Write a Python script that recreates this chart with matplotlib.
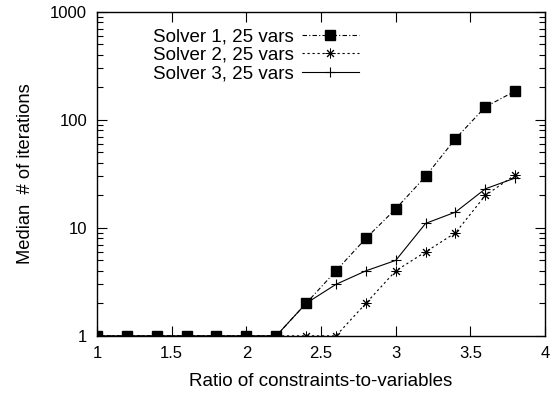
import matplotlib
matplotlib.use("Agg")
import matplotlib.pyplot as plt
from matplotlib.ticker import LogLocator, NullFormatter, FixedLocator

plt.rcParams['font.family'] = ['Liberation Sans', 'DejaVu Sans']

ratios = [1.0, 1.2, 1.4, 1.6, 1.8, 2.0, 2.2, 2.4, 2.6, 2.8, 3.0, 3.2, 3.4, 3.6, 3.8]
solver1 = [1, 1, 1, 1, 1, 1, 1, 2, 4, 8, 15, 30, 67, 132, 185]
solver2 = [1, 1, 1, 1, 1, 1, 1, 1, 1, 2, 4, 6, 9, 20, 31]
solver3 = [1, 1, 1, 1, 1, 1, 1, 2, 3, 4, 5, 11, 14, 23, 29]
labels = ["Solver 1, 25 vars", "Solver 2, 25 vars", "Solver 3, 25 vars"]
xticks = [1, 1.5, 2, 2.5, 3, 3.5, 4]
yticks = [1, 10, 100, 1000]
ytick_labels = ["1", "10", "100", "1000"]

fig = plt.figure(figsize=(5.54, 3.97), dpi=100)
ax = fig.add_axes([0.175, 0.154, 0.809, 0.816])

ax.plot(ratios, solver1, color='black', linestyle=(0, (4, 2, 1, 2)), linewidth=0.8,
        marker='s', markersize=6.5, label=labels[0])
ax.plot(ratios, solver2, color='black', linestyle=(0, (2, 2.5)), linewidth=0.8,
        marker=(8, 2, 0), markersize=7, markeredgewidth=0.7, label=labels[1])
ax.plot(ratios, solver3, color='black', linestyle='-', linewidth=0.8,
        marker='+', markersize=7.5, markeredgewidth=0.8, label=labels[2])

ax.set_yscale('log')
ax.set_xlim(1, 4)
ax.set_ylim(1, 1000)
ax.xaxis.set_major_locator(FixedLocator(xticks))
ax.set_xticklabels(["1", "1.5", "2", "2.5", "3", "3.5", "4"])
ax.set_yticks(yticks)
ax.set_yticklabels(ytick_labels)
ax.yaxis.set_minor_locator(LogLocator(base=10, subs=range(2, 10)))
ax.yaxis.set_minor_formatter(NullFormatter())

ax.tick_params(axis='both', which='major', direction='in', length=7, width=0.8,
               top=True, right=True, labelsize=12, pad=7, colors='black')
ax.tick_params(axis='y', which='minor', direction='in', length=4, width=0.8,
               left=True, right=True)
for s in ax.spines.values():
    s.set_linewidth(1.0)

ax.set_xlabel("Ratio of constraints-to-variables", fontsize=13.5, labelpad=9)
ax.set_ylabel("Median  # of iterations", fontsize=13.2, labelpad=12)

leg = ax.legend(loc='upper left', bbox_to_anchor=(0.125, 0.95), frameon=False,
                markerfirst=False, fontsize=13.5, handlelength=3.0,
                labelspacing=0.08, handletextpad=0.45, borderaxespad=0,
                borderpad=0)
for t in leg.get_texts():
    t.set_ha('right')

fig.savefig("out.png", dpi=100)
